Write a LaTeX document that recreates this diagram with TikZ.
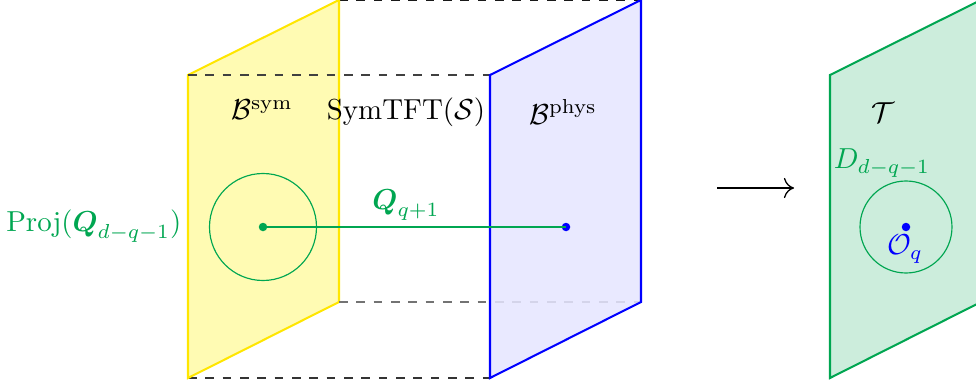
\documentclass[tikz,border=0pt]{standalone}
\usepackage{amsmath}
\usetikzlibrary{arrows.meta}
\definecolor{mygreen}{RGB}{0,166,81}
\definecolor{myyellow}{RGB}{255,230,0}
\begin{document}
\begin{tikzpicture}[x=0.346pt,y=-0.346pt,
  plane/.style={line width=0.7pt, line join=miter},
  guide/.style={dashed, line width=0.45pt},
  ring/.style={draw=mygreen, line width=0.4pt},
  dot/.style={circle, inner sep=0pt, minimum size=8.5*0.346pt},
  lbl/.style={inner sep=0pt}]
\useasboundingbox (0,0) rectangle (976,385);
\clip (0,0) rectangle (976,385);
% corners
\coordinate (y1) at (188,75);  \coordinate (y2) at (339,0);
\coordinate (y3) at (339,302); \coordinate (y4) at (188,378);
\coordinate (b1) at (490,75);  \coordinate (b2) at (641,0);
\coordinate (b3) at (641,302); \coordinate (b4) at (490,378);
\coordinate (g1) at (830,75);  \coordinate (g2) at (981,0);
\coordinate (g3) at (981,302); \coordinate (g4) at (830,378);
% dashed guides
\draw[guide, black!90] (y2) -- (b2);
\draw[guide, black!80] (y4) -- (b4);
% yellow plane
\filldraw[plane, draw=myyellow, fill=yellow!30] (y1) -- (y2) -- (y3) -- (y4) -- cycle;
\draw[guide, black!75] (y1) -- (b1);
\draw[guide, black!55] (y3) -- (b3);
% blue plane
\filldraw[plane, draw=blue, fill=blue!10, fill opacity=0.85, draw opacity=1] (b1) -- (b2) -- (b3) -- (b4) -- cycle;
% green plane
\filldraw[plane, draw=mygreen, fill=mygreen!20] (g1) -- (g2) -- (g3) -- (g4) -- cycle;
% labels
\node[lbl] (bsym) at (262,110) {$\mathcal{B}^{\text{sym}}$};
\node[lbl] (symtft) at (406,112) {SymTFT$(\mathcal{S})$};
\node[lbl] (bphys) at (563,112) {$\mathcal{B}^{\text{phys}}$};
% line operator
\coordinate (c1) at (263,227);
\draw[ring] (c1) circle[radius=53.5];
\node[dot, fill=mygreen] (p1) at (c1) {};
\node[dot, fill=blue] (p2) at (566,227) {};
\draw[mygreen, line width=0.9pt] (p1.center) -- (p2.center);
\node[lbl, text=mygreen] (qlab) at (406,205) {$\boldsymbol{Q}_{q+1}$};
\node[lbl, text=mygreen, anchor=east] (proj) at (182,226) {Proj$(\boldsymbol{Q}_{d-q-1})$};
% arrow
\coordinate (a1) at (717,188);
\coordinate (a2) at (794,188);
\draw[line width=0.45pt, -{Computer Modern Rightarrow[length=3.5pt,width=7pt]}] (a1) -- (a2);
% right plane content
\node[lbl] (T) at (883,113) {$\mathcal{T}$};
\node[lbl, text=mygreen] (D) at (882,163) {$D_{d-q-1}$};
\coordinate (c2) at (906,227);
\draw[ring] (c2) circle[radius=46];
\node[dot, fill=blue] (p3) at (c2) {};
\node[lbl, text=blue] (O) at (905,249) {$\mathcal{O}_q$};
\end{tikzpicture}
\end{document}
